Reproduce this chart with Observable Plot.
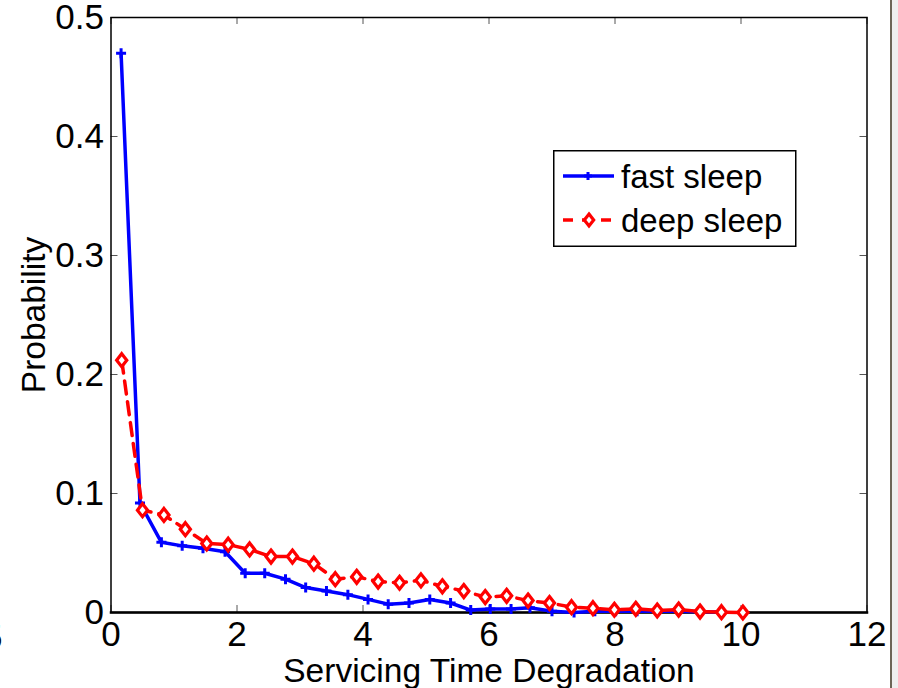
<!DOCTYPE html>
<html><head><meta charset="utf-8">
<script src="https://cdn.jsdelivr.net/npm/d3@7"></script>
<script src="https://cdn.jsdelivr.net/npm/@observablehq/plot@0.6"></script>
<style>
body{margin:0;background:#fff;}
#wrap{position:relative;width:898px;height:688px;overflow:hidden;font-family:"Liberation Sans",Arial,Helvetica,sans-serif;background:#fff;}
#wrap svg{display:block;}
#legend{position:absolute;left:553px;top:150px;}
#edge1{position:absolute;left:890px;top:0;width:2px;height:688px;background:#6d6557;}
#edge2{position:absolute;left:892px;top:0;width:6px;height:688px;background:#efefef;}
#stray{position:absolute;left:-17px;top:617px;font-size:35px;color:#000;}
</style></head><body>
<div id="wrap"></div>
<script>
// ---- data ----
const fastX = [0.16,0.46,0.80,1.13,1.46,1.81,2.13,2.44,2.77,3.09,3.42,3.76,4.08,4.40,4.73,5.06,5.39,5.71,6.02,6.35,6.65,7.00,7.35,7.68,8.01,8.35,8.68,9.01,9.35,9.68];
const fastY = [0.470,0.092,0.059,0.056,0.054,0.051,0.033,0.033,0.028,0.021,0.018,0.015,0.011,0.007,0.008,0.011,0.008,0.002,0.003,0.003,0.004,0.001,0.000,0.001,0.001,0.001,0.001,0.001,0.0006,0.0004];
const deepX = [0.17,0.50,0.84,1.18,1.52,1.86,2.20,2.54,2.88,3.22,3.56,3.90,4.24,4.58,4.92,5.26,5.60,5.94,6.28,6.62,6.96,7.31,7.65,7.99,8.33,8.67,9.01,9.35,9.69,10.03];
const deepY = [0.212,0.086,0.082,0.070,0.058,0.057,0.053,0.047,0.047,0.041,0.028,0.030,0.026,0.025,0.027,0.022,0.018,0.013,0.014,0.010,0.008,0.0045,0.0036,0.0023,0.0031,0.0017,0.0025,0.0008,0.0003,0.0];
const seriesNames = ["fast sleep","deep sleep"];
const xTicks = [0,2,4,6,8,10,12];
const yTicks = [0,0.1,0.2,0.3,0.4,0.5];
const xLabel = "Servicing Time Degradation";
const yLabel = "Probability";

const fast = fastX.map((x,i)=>({x, y: fastY[i]}));
const deep = deepX.map((x,i)=>({x, y: deepY[i]}));

const plusSym = {draw(ctx, size){ const r = Math.sqrt(size/Math.PI); ctx.moveTo(-r,0); ctx.lineTo(r,0); ctx.moveTo(0,-r); ctx.lineTo(0,r); }};
const diamondSym = {draw(ctx, size){ const r = Math.sqrt(size/Math.PI); const w = r*0.78; ctx.moveTo(0,-r); ctx.lineTo(w,0); ctx.lineTo(0,r); ctx.lineTo(-w,0); ctx.closePath(); }};

const W = 898, H = 688, mL = 110.5, mR = 31.5, mT = 17, mB = 76;
const pw = W - mL - mR, ph = H - mT - mB, tk = 7;
const FONT = '"Liberation Sans",Arial,Helvetica,sans-serif';

const chart = Plot.plot({
  width: W, height: H,
  marginLeft: mL, marginRight: mR, marginTop: mT, marginBottom: mB,
  x: {domain: [0, 12]},
  y: {domain: [0, 0.5]},
  style: {fontFamily: FONT, background: "#fff", color: "#000", overflow: "visible"},
  marks: [
    Plot.ruleX(xTicks, {insetTop: ph - tk, stroke: "#555", strokeWidth: 1}),
    Plot.ruleX(xTicks, {insetBottom: ph - tk, stroke: "#555", strokeWidth: 1}),
    Plot.ruleY(yTicks, {insetRight: pw - tk, stroke: "#555", strokeWidth: 1}),
    Plot.ruleY(yTicks, {insetLeft: pw - tk, stroke: "#555", strokeWidth: 1}),
    Plot.frame({stroke: "#000", strokeWidth: 1.5}),
    Plot.frame({anchor: "bottom", stroke: "#000", strokeWidth: 2.5}),
    Plot.line(fast, {x: "x", y: "y", stroke: "#0000ff", strokeWidth: 3.5}),
    Plot.dot(fast, {x: "x", y: "y", symbol: plusSym, r: 5, stroke: "#0000ff", strokeWidth: 3}),
    Plot.line(deep, {x: "x", y: "y", stroke: "#ff0000", strokeWidth: 3.5, strokeDasharray: "13,8"}),
    Plot.dot(deep, {x: "x", y: "y", symbol: diamondSym, r: 6.5, stroke: "#ff0000", fill: "#fff", strokeWidth: 3.2}),
    Plot.axisX(xTicks, {tickSize: 0, tickPadding: 9, fontSize: 35, label: null}),
    Plot.axisY(yTicks, {tickSize: 0, tickPadding: 7, fontSize: 35, tickFormat: d => String(d), label: null}),
    Plot.text([xLabel], {frameAnchor: "bottom", dy: 59, fontSize: 33.5, lineAnchor: "middle", textAnchor: "middle"}),
    Plot.text([yLabel], {frameAnchor: "left", dx: -77, rotate: -90, fontSize: 33.5, lineAnchor: "middle", textAnchor: "middle"})
  ]
});
const wrap = document.getElementById("wrap");
wrap.appendChild(chart);

// legend overlay
const lg = d3.select(wrap).append("svg").attr("id", "legend").attr("width", 245).attr("height", 98);
lg.append("rect").attr("x", 0.75).attr("y", 0.75).attr("width", 242).attr("height", 95.5).attr("fill", "#fff").attr("stroke", "#000").attr("stroke-width", 1.5);
const rows = [
  {name: seriesNames[0], cy: 26, color: "#0000ff", dash: null, sym: "plus"},
  {name: seriesNames[1], cy: 70, color: "#ff0000", dash: "10,9", sym: "diamond"}
];
rows.forEach(r => {
  lg.append("line").attr("x1", 10).attr("x2", 61).attr("y1", r.cy).attr("y2", r.cy)
    .attr("stroke", r.color).attr("stroke-width", 3.5).attr("stroke-dasharray", r.dash);
  if (r.sym === "plus") {
    lg.append("path").attr("d", "M35,"+(r.cy-4)+"V"+(r.cy+4)+"M31,"+r.cy+"H39").attr("stroke", r.color).attr("stroke-width", 3);
  } else {
    lg.append("path").attr("d", d3.symbol(diamondSym, Math.PI*6*6)()).attr("transform", "translate(36,"+r.cy+")")
      .attr("stroke", r.color).attr("stroke-width", 3.2).attr("fill", "#fff");
  }
  lg.append("text").attr("x", 68).attr("y", r.cy + 12).attr("font-size", 33).attr("font-family", FONT).attr("fill", "#000").text(r.name);
});
d3.select(wrap).append("div").attr("id", "edge1");
d3.select(wrap).append("div").attr("id", "edge2");
d3.select(wrap).append("div").attr("id", "stray").text("5");
</script>
</body></html>
